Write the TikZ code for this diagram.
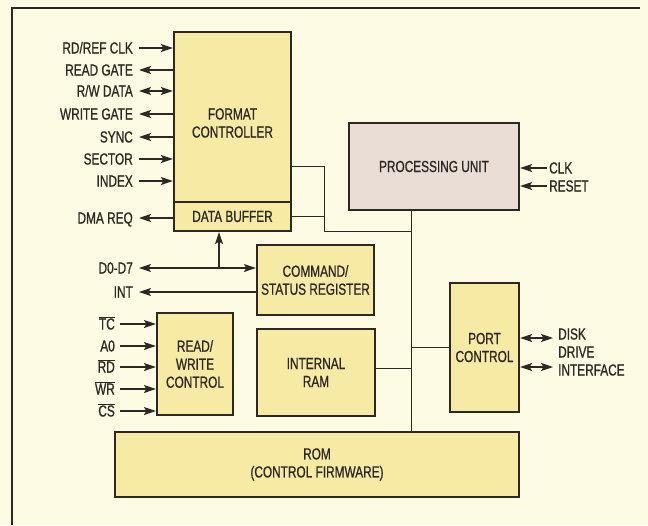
\documentclass[tikz,border=0pt]{standalone}
\usepackage{fontspec}
\setmainfont{Liberation Sans}[FakeStretch=0.74, FakeBold=0.8]
\usetikzlibrary{arrows.meta}
\definecolor{bgc}{RGB}{253,251,228}
\definecolor{boxc}{RGB}{246,234,165}
\definecolor{puc}{RGB}{234,221,214}
\definecolor{linec}{RGB}{45,40,35}
\newcommand\ovl[1]{$\overline{\mbox{#1}}$}
\tikzset{
  box/.style={draw=linec, line width=2.2pt, fill=boxc, inner sep=0pt, align=center},
  sig/.style={anchor=east, inner xsep=6pt, inner ysep=0pt, text height=11pt, text depth=0pt},
  sigr/.style={anchor=west, inner xsep=2pt, inner ysep=0pt, text height=11pt, text depth=0pt},
  tipin/.style={line width=1.1pt, draw=linec, -{Stealth[length=12pt,width=8pt,inset=2.5pt]}},
  tipbi/.style={line width=1.1pt, draw=linec, {Stealth[length=12pt,width=8pt,inset=2.5pt]}-{Stealth[length=12pt,width=8pt,inset=2.5pt]}},
  wire/.style={line width=0.9pt, draw=linec}
}
\begin{document}
\begin{tikzpicture}[x=1pt, y=-1pt, font=\fontsize{16}{18}\selectfont, text=linec]
\fill[bgc] (0,0) rectangle (648,525);
\useasboundingbox (0,0) rectangle (648,525);
\draw[line width=2pt, linec] (12,525) -- (12,8) -- (640,8);

% blocks
\node[box, minimum width=117pt, minimum height=170pt] (fc) at (232.5,117) {};
\node[align=center, inner sep=0pt] (fct) at (232.5,123) {FORMAT\\CONTROLLER};
\node[box, minimum width=117pt, minimum height=29pt] (db) at (232.5,216.5) {DATA BUFFER};
\node[box, fill=puc, minimum width=170pt, minimum height=87pt] (pu) at (434,166.5) {PROCESSING UNIT};
\node[box, minimum width=117pt, minimum height=70pt] (cmd) at (315.5,280) {COMMAND/\\STATUS REGISTER};
\node[box, minimum width=76pt, minimum height=102pt] (rw) at (195,364) {READ/\\WRITE\\CONTROL};
\node[box, minimum width=118pt, minimum height=87pt] (ram) at (316,372.5) {INTERNAL\\RAM};
\node[box, minimum width=69pt, minimum height=129pt] (pc) at (484.5,347.5) {PORT\\CONTROL};
\node[box, minimum width=404pt, minimum height=65pt] (rom) at (317,464.5) {ROM\\(CONTROL FIRMWARE)};

% format controller signals
\node[sig] (s1) at (139,48) {RD/REF CLK};
\node[sig] (s2) at (139,70) {READ GATE};
\node[sig] (s3) at (139,91) {R/W DATA};
\node[sig] (s4) at (139,114) {WRITE GATE};
\node[sig] (s5) at (139,137) {SYNC};
\node[sig] (s6) at (139,159) {SECTOR};
\node[sig] (s7) at (139,181) {INDEX};
\node[sig] (s8) at (139,218) {DMA REQ};
\draw[tipin] (s1.east) -- (s1.east -| fc.west);
\draw[tipin] (s2.east -| fc.west) -- (s2.east);
\draw[tipbi] (s3.east) -- (s3.east -| fc.west);
\draw[tipin] (s4.east -| fc.west) -- (s4.east);
\draw[tipin] (s5.east -| fc.west) -- (s5.east);
\draw[tipin] (s6.east) -- (s6.east -| fc.west);
\draw[tipin] (s7.east) -- (s7.east -| fc.west);
\draw[tipin] (s8.east -| db.west) -- (s8.east);

% data bus and interrupt
\node[sig] (d07) at (139,268) {D0-D7};
\node[sig] (int) at (139,292) {INT};
\coordinate (dj) at (219,268);
\draw[tipbi] (d07.east) -- (d07.east -| cmd.west);
\draw[tipin] (dj) -- (dj |- db.south);
\draw[tipin] (int.east -| cmd.west) -- (int.east);

% read/write control inputs
\node[sig, inner xsep=5pt] (tc) at (120,324) {\ovl{TC}};
\node[sig, inner xsep=5pt] (a0) at (120,346) {A0};
\node[sig, inner xsep=5pt] (rd) at (120,367) {\ovl{RD}};
\node[sig, inner xsep=5pt] (wr) at (120,389) {\ovl{WR}};
\node[sig, inner xsep=5pt] (cs) at (120,411) {\ovl{CS}};
\foreach \n in {tc,a0,rd,wr,cs} \draw[tipin] (\n.east) -- (\n.east -| rw.west);

% processing unit inputs
\node[sigr] (clk) at (547,168) {CLK};
\node[sigr] (rst) at (547,186) {RESET};
\draw[tipin] (clk.west) -- (clk.west -| pu.east);
\draw[tipin] (rst.west) -- (rst.west -| pu.east);

% internal bus
\coordinate (busx) at (411,0);
\coordinate (k1) at (324,166);
\coordinate (k2) at (324,231);
\coordinate (r1) at (375,368);
\coordinate (p1) at (450,347);
\draw[wire] (busx |- pu.south) -- (busx |- rom.north);
\draw[wire] (k1 -| fc.east) -- (k1) -- (k2) -- (busx |- k2);
\draw[wire] (db.east) -- (db.east -| k1);
\draw[wire] (ram.east |- r1) -- (busx |- r1);
\draw[wire] (busx |- p1) -- (pc.west |- p1);

% disk drive interface
\coordinate (dd1) at (553,338);
\coordinate (dd2) at (553,367);
\draw[tipbi] (pc.east |- dd1) -- (dd1);
\draw[tipbi] (pc.east |- dd2) -- (dd2);
\node[anchor=west, align=left, inner sep=0pt] (ddi) at (558,352) {DISK\\DRIVE\\INTERFACE};
\end{tikzpicture}
\end{document}
